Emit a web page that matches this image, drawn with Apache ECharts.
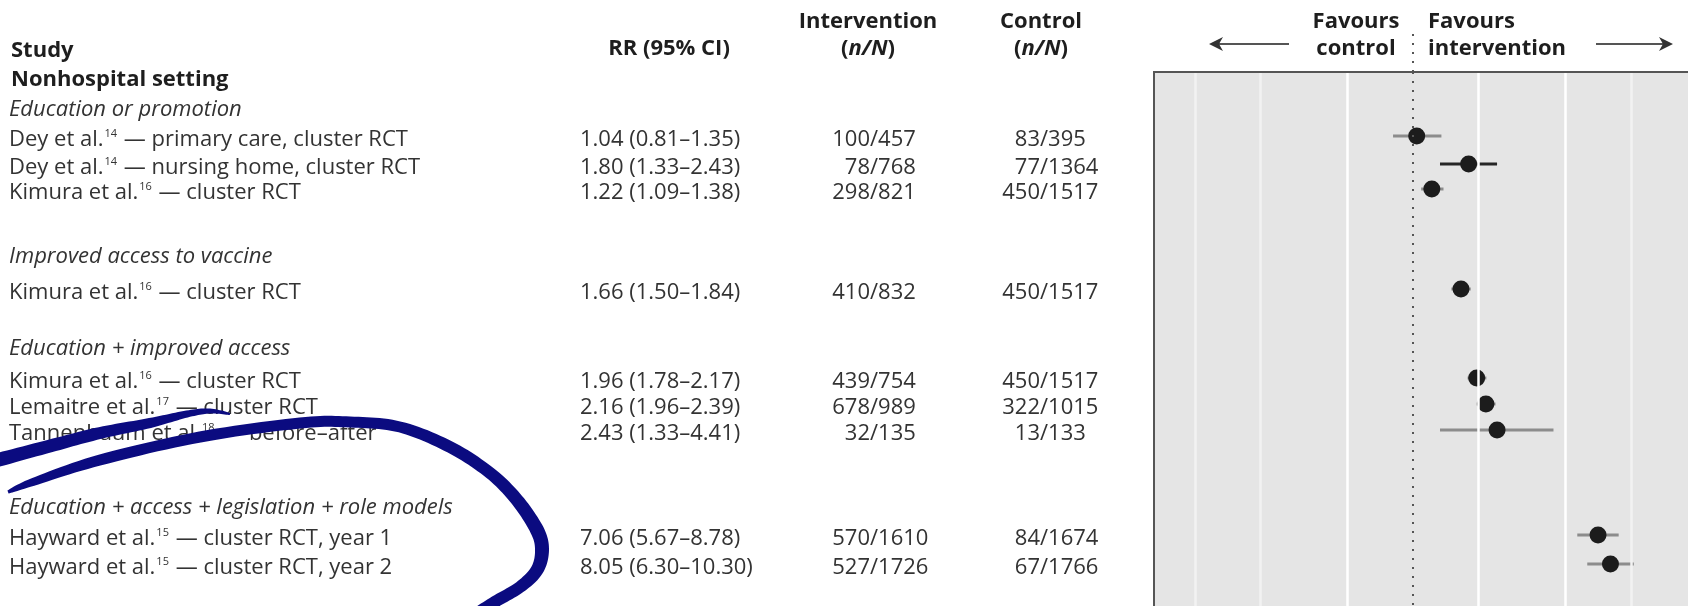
<!DOCTYPE html>
<html>
<head>
<meta charset="utf-8" />
<title>Forest plot</title>
<style>
  html, body { margin: 0; padding: 0; background: #ffffff; }
  #main { width: 1688px; height: 606px; }
</style>
</head>
<body>
<div id="main"></div>
<script src="https://cdn.jsdelivr.net/npm/echarts@6/dist/echarts.min.js"></script>
<script>
// ---- data ----
var groupNames = ['Education or promotion', 'Improved access to vaccine',
                  'Education + improved access', 'Education + access + legislation + role models'];
var studyAuthor = ['Dey et al.', 'Dey et al.', 'Kimura et al.', 'Kimura et al.', 'Kimura et al.',
                   'Lemaitre et al.', 'Tannenbaum et al.', 'Hayward et al.', 'Hayward et al.'];
var studyRef = ['14', '14', '16', '16', '16', '17', '18', '15', '15'];
var studyDesign = ['primary care, cluster RCT', 'nursing home, cluster RCT', 'cluster RCT', 'cluster RCT',
                   'cluster RCT', 'cluster RCT', 'before\u2013after', 'cluster RCT, year 1', 'cluster RCT, year 2'];
var rr     = [1.04, 1.80, 1.22, 1.66, 1.96, 2.16, 2.43, 7.06, 8.05];
var ciLow  = [0.81, 1.33, 1.09, 1.50, 1.78, 1.96, 1.33, 5.67, 6.30];
var ciHigh = [1.35, 2.43, 1.38, 1.84, 2.17, 2.39, 4.41, 8.78, 10.30];
var intEvents = [100, 78, 298, 410, 439, 678, 32, 570, 527];
var intTotal  = [457, 768, 821, 832, 754, 989, 135, 1610, 1726];
var ctlEvents = [83, 77, 450, 450, 450, 322, 13, 84, 67];
var ctlTotal  = [395, 1364, 1517, 1517, 1517, 1015, 133, 1674, 1766];
var gridMajor = [0.5, 2, 5];
var gridMinor = [0.1, 0.2, 10];

// ---- layout (table rows, px from top) ----
var rowY   = [136, 164, 189, 289, 378, 404, 430, 535, 564];
var groupY = [107, 254, 346, 505];
var ciColor = ['#8c8c8c', '#262626', '#8c8c8c', '#8c8c8c', '#8c8c8c', '#8c8c8c', '#8c8c8c', '#8c8c8c', '#8c8c8c'];

var FONT = '"Open Sans", "DejaVu Sans", sans-serif';
var FS = 22;
var W = 1688, H = 606;
var plotLeft = 1154, plotTop = 72;
var oneX = 1413, pxPerDecade = 218;   // where RR = 1 sits, and log scale
var xMin = Math.pow(10, (plotLeft - oneX) / pxPerDecade);
var xMax = Math.pow(10, (W - oneX) / pxPerDecade);

function txt(x, y, text, opt) {
  opt = opt || {};
  var st = {
    text: text, fill: opt.fill || '#333333', fontSize: opt.size || FS, fontFamily: FONT,
    fontWeight: opt.weight || 'normal', fontStyle: opt.italic ? 'italic' : 'normal',
    textAlign: opt.align || 'left', align: opt.align || 'left',
    textVerticalAlign: 'middle', verticalAlign: 'middle', lineHeight: 26
  };
  if (opt.rich) st.rich = opt.rich;
  return { type: 'text', x: x, y: y + 3, z: 10, silent: true, style: st };
}

// tapered pen stroke built as a polygon around a Catmull-Rom centre line
function penStroke(pts) {
  var dense = [];
  for (var i = 0; i < pts.length - 1; i++) {
    var p0 = pts[Math.max(i - 1, 0)], p1 = pts[i], p2 = pts[i + 1], p3 = pts[Math.min(i + 2, pts.length - 1)];
    for (var s = 0; s < 12; s++) {
      var t = s / 12, t2 = t * t, t3 = t2 * t;
      var f = function (k) {
        return 0.5 * (2 * p1[k] + (-p0[k] + p2[k]) * t + (2 * p0[k] - 5 * p1[k] + 4 * p2[k] - p3[k]) * t2 +
          (-p0[k] + 3 * p1[k] - 3 * p2[k] + p3[k]) * t3);
      };
      dense.push([f(0), f(1), p1[2] + (p2[2] - p1[2]) * t]);
    }
  }
  dense.push(pts[pts.length - 1]);
  var left = [], right = [];
  for (var j = 0; j < dense.length; j++) {
    var a = dense[Math.max(j - 1, 0)], b = dense[Math.min(j + 1, dense.length - 1)];
    var dx = b[0] - a[0], dy = b[1] - a[1], len = Math.sqrt(dx * dx + dy * dy) || 1;
    var nx = -dy / len, ny = dx / len, h = dense[j][2] / 2;
    left.push([dense[j][0] + nx * h, dense[j][1] + ny * h]);
    right.unshift([dense[j][0] - nx * h, dense[j][1] - ny * h]);
  }
  return { type: 'polygon', z: 50, silent: true, shape: { points: left.concat(right) }, style: { fill: '#0b0b80' } };
}

var supRich = {
  sup: { fontSize: 11, fontFamily: FONT, fill: '#333333', padding: [0, 1, 12, 1], lineHeight: 14 }
};
var headRich = {
  b: { fontSize: FS, fontFamily: FONT, fontWeight: 'bold', fill: '#1e1e1e' },
  bi: { fontSize: FS, fontFamily: FONT, fontWeight: 'bold', fontStyle: 'italic', fill: '#1e1e1e' }
};

var els = [];
// column headers
els.push(txt(11, 48, 'Study', { weight: 'bold', fill: '#1e1e1e' }));
els.push(txt(11, 77, 'Nonhospital setting', { weight: 'bold', fill: '#1e1e1e' }));
els.push(txt(669, 46, 'RR (95% CI)', { weight: 'bold', fill: '#1e1e1e', align: 'center' }));
els.push(txt(868, 19, 'Intervention', { weight: 'bold', fill: '#1e1e1e', align: 'center' }));
els.push(txt(868, 46, '{b|(}{bi|n/N}{b|)}', { align: 'center', rich: headRich }));
els.push(txt(1041, 19, 'Control', { weight: 'bold', fill: '#1e1e1e', align: 'center' }));
els.push(txt(1041, 46, '{b|(}{bi|n/N}{b|)}', { align: 'center', rich: headRich }));
els.push(txt(1356, 19, 'Favours', { weight: 'bold', fill: '#1e1e1e', align: 'center' }));
els.push(txt(1356, 46, 'control', { weight: 'bold', fill: '#1e1e1e', align: 'center' }));
els.push(txt(1428, 19, 'Favours', { weight: 'bold', fill: '#1e1e1e' }));
els.push(txt(1428, 46, 'intervention', { weight: 'bold', fill: '#1e1e1e' }));

// arrows
els.push({ type: 'line', silent: true, shape: { x1: 1289, y1: 44, x2: 1218, y2: 44 }, style: { stroke: '#555', lineWidth: 2 } });
els.push({ type: 'polygon', silent: true, shape: { points: [[1209, 44], [1223, 37], [1219, 44], [1223, 51]] }, style: { fill: '#333' } });
els.push({ type: 'line', silent: true, shape: { x1: 1596, y1: 44, x2: 1664, y2: 44 }, style: { stroke: '#555', lineWidth: 2 } });
els.push({ type: 'polygon', silent: true, shape: { points: [[1673, 44], [1659, 37], [1663, 44], [1659, 51]] }, style: { fill: '#333' } });

// panel frame: only top and left edges are inside the picture
els.push({ type: 'polyline', z: 20, silent: true, shape: { points: [[plotLeft, H + 2], [plotLeft, plotTop], [W + 2, plotTop]] },
  style: { stroke: '#555555', lineWidth: 2, fill: null } });

// group titles
for (var g = 0; g < groupNames.length; g++) {
  els.push(txt(9, groupY[g], groupNames[g], { italic: true }));
}
// study rows
for (var i = 0; i < rr.length; i++) {
  var ty = rowY[i] + 1;
  els.push(txt(9, ty, studyAuthor[i] + '{sup|' + studyRef[i] + '}' + ' \u2014 ' + studyDesign[i], { rich: supRich }));
  els.push(txt(580, ty, rr[i].toFixed(2) + ' (' + ciLow[i].toFixed(2) + '\u2013' + ciHigh[i].toFixed(2) + ')'));
  els.push(txt(870, ty, String(intEvents[i]), { align: 'right' }));
  els.push(txt(870, ty, '/' + intTotal[i]));
  els.push(txt(1040, ty, String(ctlEvents[i]), { align: 'right' }));
  els.push(txt(1040, ty, '/' + ctlTotal[i]));
}

// hand-drawn ink annotation
els.push(penStroke([[-6, 461, 14], [50, 446, 13], [100, 433, 12], [150, 423, 10], [187, 414, 7], [210, 411, 5], [230, 414, 2]]));
els.push(penStroke([[8, 492, 3], [33, 482, 8], [100, 460, 11], [200, 437, 11], [300, 423, 11], [350, 422, 11],
  [400, 427, 11], [450, 447, 12], [490, 473, 12], [517, 500, 13], [537, 530, 14], [542, 550, 14], [537, 570, 13],
  [520, 587, 12], [493, 603, 12], [470, 618, 12]]));

var ciData = [], ptData = [];
for (var k = 0; k < rr.length; k++) {
  ciData.push([ciLow[k], rowY[k], ciHigh[k]]);
  ptData.push([rr[k], rowY[k]]);
}

var gridLines = gridMajor.map(function (v) {
  return { xAxis: v, lineStyle: { color: '#ffffff', width: 2.5, type: 'solid' } };
}).concat(gridMinor.map(function (v) {
  return { xAxis: v, lineStyle: { color: '#f2f2f2', width: 2.5, type: 'solid' } };
}));

var chart = echarts.init(document.getElementById('main'));
var option = {
  animation: false,
  grid: [
    { left: plotLeft, top: plotTop, right: 0, bottom: 0, show: true, outerBoundsMode: 'none',
      backgroundColor: '#e5e5e5', borderWidth: 0 },
    { left: plotLeft, top: 30, right: 0, height: plotTop - 30, outerBoundsMode: 'none' }
  ],
  xAxis: [
    { type: 'log', gridIndex: 0, min: xMin, max: xMax, axisLine: { show: false }, axisTick: { show: false },
      axisLabel: { show: false }, splitLine: { show: false } },
    { type: 'log', gridIndex: 1, min: xMin, max: xMax, axisLine: { show: false }, axisTick: { show: false },
      axisLabel: { show: false }, splitLine: { show: false } }
  ],
  yAxis: [
    { type: 'value', gridIndex: 0, min: plotTop, max: H, inverse: true, show: false },
    { type: 'value', gridIndex: 1, min: 0, max: 1, show: false }
  ],
  series: [
    { type: 'scatter', xAxisIndex: 0, yAxisIndex: 0, data: [], z: 1, silent: true,
      markLine: { silent: true, symbol: 'none', label: { show: false }, animation: false, data: gridLines } },
    { type: 'scatter', xAxisIndex: 0, yAxisIndex: 0, data: [], z: 2, silent: true,
      markLine: { silent: true, symbol: 'none', label: { show: false }, animation: false,
        data: [{ xAxis: 1, lineStyle: { color: '#555555', width: 2, type: [2, 7] } }] } },
    { type: 'scatter', xAxisIndex: 1, yAxisIndex: 1, data: [], z: 2, silent: true,
      markLine: { silent: true, symbol: 'none', label: { show: false }, animation: false,
        data: [{ xAxis: 1, lineStyle: { color: '#555555', width: 2, type: [2, 7] } }] } },
    { type: 'custom', xAxisIndex: 0, yAxisIndex: 0, z: 3, silent: true, data: ciData,
      encode: { x: [0, 2], y: 1 },
      renderItem: function (params, api) {
        var a = api.coord([api.value(0), api.value(1)]);
        var b = api.coord([api.value(2), api.value(1)]);
        return { type: 'line', shape: { x1: a[0], y1: a[1], x2: b[0], y2: b[1] },
          style: { stroke: ciColor[params.dataIndex], lineWidth: 3 } };
      } },
    { type: 'scatter', xAxisIndex: 0, yAxisIndex: 0, z: 4, silent: true, data: ptData,
      symbol: 'circle', symbolSize: 17, itemStyle: { color: '#1c1c1c', opacity: 1 } }
  ],
  graphic: { elements: els }
};
chart.setOption(option);
</script>
</body>
</html>
